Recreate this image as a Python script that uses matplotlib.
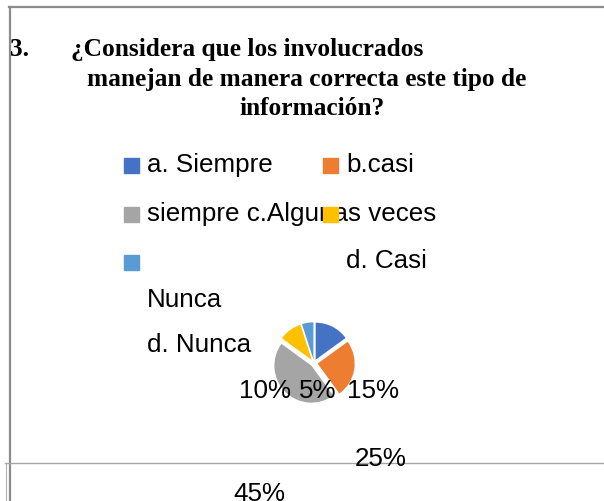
import matplotlib
matplotlib.use("Agg")
import matplotlib.pyplot as plt
from matplotlib.patches import Rectangle
from matplotlib.lines import Line2D

W, H = 604, 502

# data
categories = ["a. Siempre", "b.casi siempre", "c.Algunas veces", "d. Casi Nunca", "d. Nunca"]
values = [15, 25, 45, 10, 5]
colors = ["#4472C4", "#ED7D31", "#A5A5A5", "#FFC000", "#5B9BD5"]

title_num = "3."
title_lines = ["¿Considera que los involucrados",
               "manejan de manera correcta este tipo de",
               "información?"]


def fx(px):
    return px / W


def fy(py):
    return 1 - py / H


fig = plt.figure(figsize=(W / 100, H / 100), dpi=100)

# frame lines (word text box look)
fig.add_artist(Line2D([fx(9), fx(604)], [fy(8), fy(8)], color="#8c8c8c", lw=1.6))
fig.add_artist(Line2D([fx(9.5), fx(9.5)], [fy(8), fy(502)], color="#8c8c8c", lw=1.6))
fig.add_artist(Line2D([fx(5), fx(604)], [fy(463.5), fy(463.5)], color="#a6a6a6", lw=1.0))
fig.add_artist(Line2D([fx(5.5), fx(5.5)], [fy(463.5), fy(502)], color="#b0b0b0", lw=0.8))

# title
tfont = dict(family="Liberation Serif", weight="bold", size=18.3, color="black")
fig.text(fx(10), fy(56), title_num, ha="left", va="baseline", **tfont)
fig.text(fx(71), fy(56), title_lines[0], ha="left", va="baseline", **tfont)
fig.text(fx(307), fy(86), title_lines[1], ha="center", va="baseline", **tfont)
fig.text(fx(312), fy(115), title_lines[2], ha="center", va="baseline", **tfont)

# legend, laid out as in the source (wrapped badly)
lfont = dict(family="Liberation Sans", size=18.7, color="black")
sq = 15
swatches = [(124, 159), (323, 159), (124, 208), (323, 208), (124, 256)]
for (x, y), c in zip(swatches, colors):
    fig.add_artist(Rectangle((fx(x), fy(y + sq)), sq / W, sq / H, color=c,
                             transform=fig.transFigure, zorder=5))
fig.text(fx(147), fy(172), "a. Siempre", ha="left", va="baseline", **lfont)
fig.text(fx(346), fy(172), "b.casi", ha="left", va="baseline", **lfont)
fig.text(fx(147), fy(221), "siempre c.Algunas veces", ha="left", va="baseline", **lfont)
fig.text(fx(346), fy(268), "d. Casi", ha="left", va="baseline", **lfont)
fig.text(fx(147), fy(307), "Nunca", ha="left", va="baseline", **lfont)
fig.text(fx(147), fy(352), "d. Nunca", ha="left", va="baseline", **lfont)

# pie
cx, cy, r = 314, 364, 37
lim = 1.3
size = 2 * lim * r
ax = fig.add_axes([fx(cx - size / 2), fy(cy + size / 2), size / W, size / H])
ax.pie(values, colors=colors, startangle=90, counterclock=False,
       explode=[0.1] * len(values), wedgeprops=dict(linewidth=0))
ax.set_xlim(-lim, lim)
ax.set_ylim(-lim, lim)
ax.set_aspect("equal")
ax.axis("off")

# data labels, scattered like the source
label_pos = {3: (239, 398), 4: (299, 398), 0: (347, 398), 1: (355, 466), 2: (233, 501)}
for i, v in enumerate(values):
    x, y = label_pos[i]
    fig.text(fx(x), fy(y), f"{v}%", ha="left", va="baseline", zorder=10, **lfont)

fig.savefig("out.png", dpi=100)
